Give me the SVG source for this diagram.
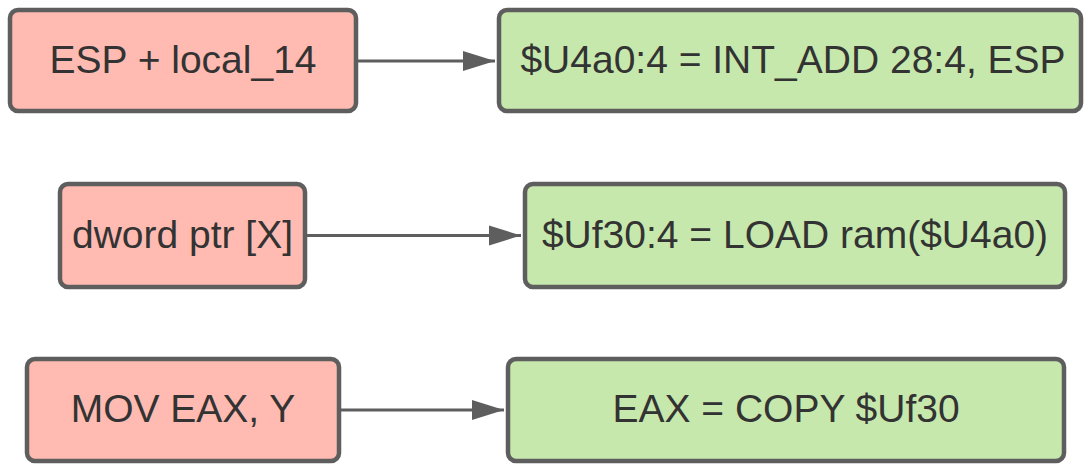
<svg xmlns="http://www.w3.org/2000/svg" width="1086" height="464" viewBox="0 0 1086 464">
<style>
.pink{fill:#ffbbb1;stroke:#5e5e5e;stroke-width:4.5}
.green{fill:#c7e8ac;stroke:#5e5e5e;stroke-width:4.5}
.lbl{font-family:"Liberation Sans",Arial,sans-serif;font-size:39px;fill:#333333;text-anchor:middle;dominant-baseline:central}
.edge{stroke:#5e5e5e;stroke-width:3;fill:none;marker-end:url(#arr)}
</style>
<defs>
<marker id="arr" markerUnits="userSpaceOnUse" markerWidth="34" markerHeight="22" refX="32" refY="11" orient="auto">
<path d="M0,1 L32,11 L0,21 Z" fill="#5e5e5e"/>
</marker>
</defs>
<rect width="1086" height="464" fill="#ffffff"/>
<g id="connectors">
<line class="edge" x1="358" y1="61" x2="495" y2="61"/>
<line class="edge" x1="307" y1="235.5" x2="521" y2="235.5"/>
<line class="edge" x1="341" y1="410" x2="504" y2="410"/>
</g>
<g id="n1"><rect class="pink" x="10" y="10" width="346" height="101" rx="8"/><text class="lbl" x="183" y="59">ESP + local_14</text></g>
<g id="n2"><rect class="green" x="499" y="10" width="582" height="101" rx="8"/><text class="lbl" x="793" y="59">$U4a0:4 = INT_ADD 28:4, ESP</text></g>
<g id="n3"><rect class="pink" x="60" y="184" width="245" height="103" rx="8"/><text class="lbl" x="182.5" y="234">dword ptr [X]</text></g>
<g id="n4"><rect class="green" x="525" y="184" width="540" height="103" rx="8"/><text class="lbl" x="795" y="234">$Uf30:4 = LOAD ram($U4a0)</text></g>
<g id="n5"><rect class="pink" x="27" y="359" width="312" height="102" rx="8"/><text class="lbl" x="183" y="408">MOV EAX, Y</text></g>
<g id="n6"><rect class="green" x="508" y="359" width="556" height="102" rx="8"/><text class="lbl" x="786" y="408">EAX = COPY $Uf30</text></g>
</svg>
